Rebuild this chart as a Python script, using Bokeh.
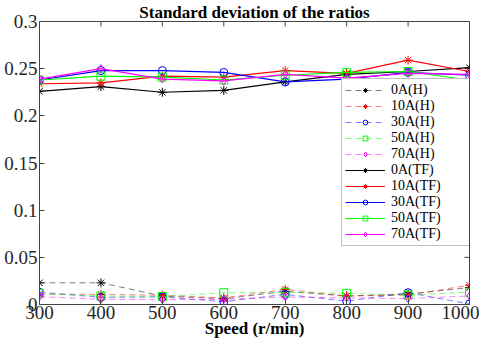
from bokeh.plotting import figure
from bokeh.models import Range1d, FixedTicker, Legend, LegendItem
from bokeh.embed import file_html
from bokeh.resources import INLINE

speeds = [300, 400, 500, 600, 700, 800, 900, 1000]

h_0a = [0.023, 0.023, 0.009, 0.006, 0.014, 0.009, 0.011, 0.018]
h_10a = [0.011, 0.0107, 0.0097, 0.007, 0.016, 0.009, 0.010, 0.0205]
h_30a = [0.013, 0.0076, 0.008, 0.003, 0.0107, 0.0035, 0.0125, 0.0005]
h_50a = [0.0118, 0.009, 0.0085, 0.0125, 0.0128, 0.0118, 0.010, 0.013]
h_70a = [0.0083, 0.0055, 0.005, 0.0055, 0.008, 0.007, 0.0063, 0.009]

tf_0a = [0.226, 0.231, 0.225, 0.227, 0.236, 0.244, 0.247, 0.251]
tf_10a = [0.234, 0.235, 0.242, 0.241, 0.248, 0.245, 0.259, 0.247]
tf_30a = [0.238, 0.248, 0.248, 0.246, 0.236, 0.239, 0.246, 0.243]
tf_50a = [0.238, 0.242, 0.241, 0.238, 0.243, 0.246, 0.247, 0.238]
tf_70a = [0.239, 0.250, 0.239, 0.237, 0.244, 0.240, 0.245, 0.244]

labels = ["0A(H)", "10A(H)", "30A(H)", "50A(H)", "70A(H)",
          "0A(TF)", "10A(TF)", "30A(TF)", "50A(TF)", "70A(TF)"]
series = [h_0a, h_10a, h_30a, h_50a, h_70a, tf_0a, tf_10a, tf_30a, tf_50a, tf_70a]
colors = ["#000000", "#ff0000", "#0000ff", "#00ff00", "#ff00ff"] * 2
markers = ["asterisk", "asterisk", "circle", "square", "diamond"] * 2

x_ticks = [300, 400, 500, 600, 700, 800, 900, 1000]
y_ticks = [0, 0.05, 0.1, 0.15, 0.2, 0.25, 0.3]
y_tick_labels = ["0", "0.05", "0.1", "0.15", "0.2", "0.25", "0.3"]

X0, X1 = 300, 1000
Y0, Y1 = 0, 0.3

FONT = "Liberation Serif"
TXT = "#262626"
AX = "#444444"

p = figure(width=479, height=342, output_backend="svg", toolbar_location=None,
           x_range=Range1d(X0, X1), y_range=Range1d(Y0, Y1),
           min_border_left=39, min_border_right=10, min_border_top=16, min_border_bottom=38)
p.title.text = "Standard deviation of the ratios"
p.title.text_font = FONT
p.title.text_font_size = "17px"
p.title.text_font_style = "bold"
p.title.text_line_height = 1.0
p.title.align = "center"
p.title.standoff = 0
p.title.offset = 0
p.title.text_color = "#000000"

p.grid.visible = False
p.outline_line_color = AX

for ax in (p.xaxis[0], p.yaxis[0]):
    ax.major_label_text_font = FONT
    ax.major_label_text_font_size = "19px"
    ax.major_label_text_color = TXT
    ax.major_label_text_line_height = 1.0
    ax.axis_line_color = AX
    ax.major_tick_line_color = AX
    ax.major_tick_in = 5
    ax.major_tick_out = 0
    ax.minor_tick_line_color = None
    ax.major_label_standoff = 2

p.xaxis[0].major_label_standoff = 1
p.xaxis[0].ticker = FixedTicker(ticks=x_ticks)
p.yaxis[0].ticker = FixedTicker(ticks=y_ticks)
p.yaxis[0].major_label_overrides = {t: l for t, l in zip(y_ticks, y_tick_labels)}
p.xaxis[0].axis_label = "Speed (r/min)"
p.xaxis[0].axis_label_text_font = FONT
p.xaxis[0].axis_label_text_font_size = "17px"
p.xaxis[0].axis_label_text_font_style = "bold"
p.xaxis[0].axis_label_text_line_height = 1.0
p.xaxis[0].axis_label_text_color = "#000000"
p.xaxis[0].axis_label_standoff = -3

# inward ticks on the top and right edges of the box (derived from the tick lists)
tx = (X1 - X0) * 5 / 425.0
ty = (Y1 - Y0) * 5 / 286.0
p.segment(x0=x_ticks, y0=[Y1] * len(x_ticks), x1=x_ticks, y1=[Y1 - ty] * len(x_ticks),
          line_color=AX, line_width=1)
p.segment(x0=[X1] * len(y_ticks), y0=y_ticks, x1=[X1 - tx] * len(y_ticks), y1=y_ticks,
          line_color=AX, line_width=1)

items = []
for i, (lab, ys, c, m) in enumerate(zip(labels, series, colors, markers)):
    if i < 5:
        ln = p.line(speeds, ys, line_color=c, line_width=1, line_dash="6 4", line_alpha=0.5)
    else:
        ln = p.line(speeds, ys, line_color=c, line_width=1.2)
    sc = p.scatter(speeds, ys, marker=m, size=9 if m == "asterisk" else 8,
                   line_color=c, fill_color=None, line_width=1)
    items.append(LegendItem(label=lab, renderers=[ln, sc]))

legend = Legend(items=items, location=(302, 58))
legend.label_text_font = FONT
legend.label_text_font_size = "14px"
legend.label_text_line_height = 1.0
legend.label_text_color = "#000000"
legend.label_height = 12
legend.label_width = 82
legend.glyph_height = 12
legend.glyph_width = 40
legend.spacing = 0
legend.padding = 3
legend.margin = 0
legend.label_standoff = 6
legend.border_line_color = "#808080"
legend.background_fill_alpha = 1
p.add_layout(legend, "center")

open("out.html", "w").write(file_html(p, INLINE))
